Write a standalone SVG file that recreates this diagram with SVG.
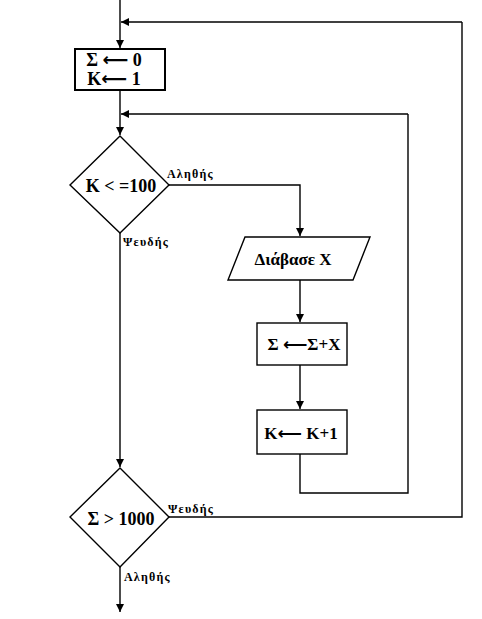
<svg xmlns="http://www.w3.org/2000/svg" width="482" height="619" viewBox="0 0 482 619">
<defs>
<marker id="ah" viewBox="0 0 10 10" refX="10" refY="5" markerWidth="8" markerHeight="9" markerUnits="userSpaceOnUse" orient="auto">
<path d="M0,0 L10,5 L0,10 z" fill="#000"/>
</marker>
</defs>
<style>
.s{fill:#fff;stroke:#000;stroke-width:1.4}
.c{fill:none;stroke:#000;stroke-width:1.4}
.t{font-family:"Liberation Serif","Times New Roman",serif;font-weight:bold;font-size:18px;text-anchor:middle;fill:#000}
.a{font-family:"DejaVu Sans",sans-serif;font-weight:bold}
.l{font-family:"Liberation Serif","Times New Roman",serif;font-weight:bold;font-size:12px;letter-spacing:1.2px;fill:#000}
</style>
<rect width="482" height="619" fill="#fff"/>
<g id="connectors">
<path class="c" d="M120,0 V48" marker-end="url(#ah)"/>
<path class="c" d="M462,22 H121" marker-end="url(#ah)"/>
<path class="c" d="M120,90 V135" marker-end="url(#ah)"/>
<path class="c" d="M408,114 H121" marker-end="url(#ah)"/>
<path class="c" d="M169,185 H300 V236" marker-end="url(#ah)"/>
<path class="c" d="M300,280 V322" marker-end="url(#ah)"/>
<path class="c" d="M300,365 V409" marker-end="url(#ah)"/>
<path class="c" d="M300,454 V493 H408 V114"/>
<path class="c" d="M120,233 V467" marker-end="url(#ah)"/>
<path class="c" d="M169,517 H462 V22"/>
<path class="c" d="M120,567 V612" marker-end="url(#ah)"/>
<text class="l" x="167" y="178">Αληθής</text>
<text class="l" x="123" y="246">Ψευδής</text>
<text class="l" x="168" y="513">Ψευδής</text>
<text class="l" x="124" y="581">Αληθής</text>
</g>
<g id="init">
<rect x="75" y="49" width="90" height="41" fill="#fff" stroke="#000" stroke-width="2"/>
<text class="t" x="114" y="66">Σ <tspan class="a">⟵</tspan> 0</text>
<text class="t" x="114" y="85">K<tspan class="a">⟵</tspan> 1</text>
</g>
<g id="cond1">
<polygon class="s" points="120,136 169,185 120,233 70,185"/>
<text class="t" x="121" y="192">K &lt; =100</text>
</g>
<g id="read">
<polygon class="s" points="245,237 370,237 353,280 228,280"/>
<text class="t" x="293" y="265" style="font-size:17px">Διάβασε X</text>
</g>
<g id="sum">
<rect class="s" x="257" y="323" width="90" height="42"/>
<text class="t" x="304" y="350" style="font-size:17px">Σ <tspan class="a">⟵</tspan>Σ+X</text>
</g>
<g id="inc">
<rect class="s" x="257" y="410" width="90" height="44"/>
<text class="t" x="301" y="439" style="font-size:17px">K<tspan class="a">⟵</tspan> K+1</text>
</g>
<g id="cond2">
<polygon class="s" points="120,468 169,517 120,567 70,517"/>
<text class="t" x="121" y="525">Σ &gt; 1000</text>
</g>
</svg>
